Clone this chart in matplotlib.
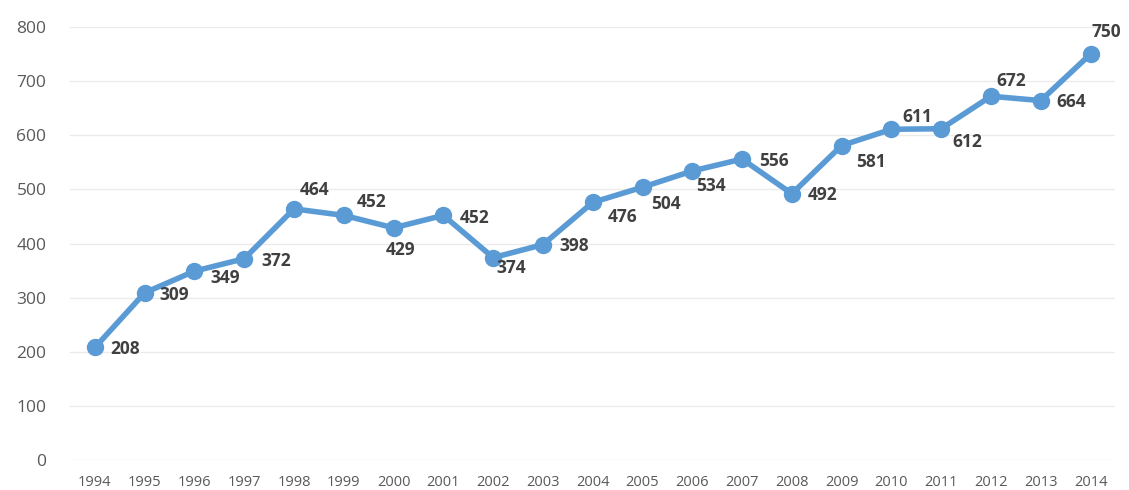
import matplotlib.pyplot as plt
import numpy as np

# data
years = [str(y) for y in range(1994, 2015)]
values = [208, 309, 349, 372, 464, 452, 429, 452, 374, 398, 476,
          504, 534, 556, 492, 581, 611, 612, 672, 664, 750]
# label offsets (pixels) relative to each point
label_dx = [15, 15, 16, 17, 6, 13, -8, 16, 3, 16, 15, 9, 4, 17, 16, 14, 11, 11, 5, 16, 1]
label_dy = [-2, -2, -7, -2, 19, 13, -22, -3, -10, -1, -15, -17, -15, -2, -1, -16, 12, -13, 15, -1, 22]

plt.rcParams['font.family'] = ['Open Sans', 'DejaVu Sans']

fig = plt.figure(figsize=(11.29, 4.9), dpi=100)
ax = fig.add_axes([0.062, 0.061, 0.926, 0.884])

x = np.arange(len(years))
ax.plot(x, values, color='#5B9BD5', linewidth=4, marker='o',
        markersize=11.5, markerfacecolor='#5B9BD5', markeredgecolor='#5B9BD5',
        solid_capstyle='round', zorder=3)

for xi, v, dx, dy in zip(x, values, label_dx, label_dy):
    ax.annotate(str(v), (xi, v), xytext=(dx, dy), textcoords='offset pixels',
                ha='left', va='center', fontsize=12.5, fontweight='bold',
                color='#404040')

ax.set_xlim(-0.5, len(years) - 0.5)
ax.set_ylim(0, 800)
ax.set_yticks(range(0, 801, 100))
ax.set_xticks(x)
ax.set_xticklabels(years)
ax.grid(axis='y', color='#EBEBEB', linewidth=1)
ax.set_axisbelow(True)
for s in ax.spines.values():
    s.set_visible(False)
ax.tick_params(axis='y', length=0, labelsize=12.5, labelcolor='#595959', pad=17)
ax.tick_params(axis='x', length=0, labelsize=10.5, labelcolor='#595959', pad=11)

fig.savefig('out.png', dpi=100)
